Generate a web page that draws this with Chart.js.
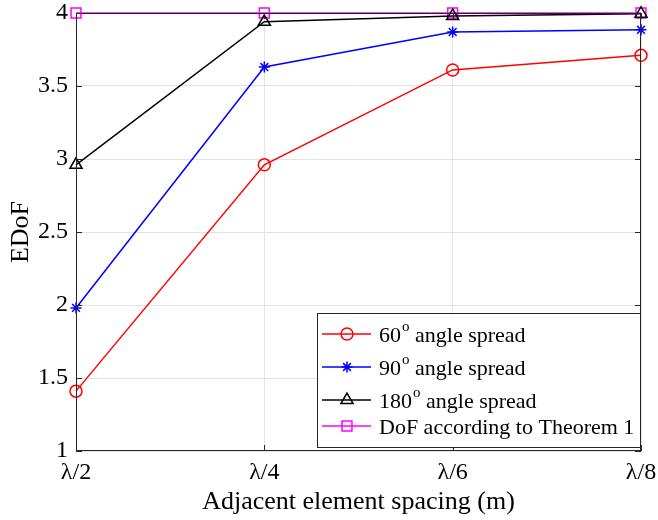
<!DOCTYPE html>
<html>
<head>
<meta charset="utf-8">
<script src="https://cdn.jsdelivr.net/npm/chart.js@4.4.0/dist/chart.umd.min.js"></script>
<style>
  html, body { margin: 0; padding: 0; background: #fff; }
  #wrap { width: 658px; height: 520px; position: relative; }
</style>
</head>
<body>
<div id="wrap"><canvas id="grafica"></canvas></div>
<script>
// datos
const espaciado = ['λ/2', 'λ/4', 'λ/6', 'λ/8'];
const spread60 = [1.41, 2.96, 3.61, 3.71];
const spread90 = [1.98, 3.63, 3.87, 3.885];
const spread180 = [2.96, 3.94, 3.98, 3.995];
const teorema1 = [4, 4, 4, 4];
const yTicks = [1, 1.5, 2, 2.5, 3, 3.5, 4];

const FUENTE = '"Liberation Serif", "Times New Roman", serif';
const EJE = '#262626';

// caja tipo MATLAB + ticks hacia adentro
const cajaPlugin = {
    id: 'caja',
    afterDraw(chart) {
        const { ctx, chartArea: a, scales } = chart;
        ctx.save();
        ctx.strokeStyle = EJE;
        ctx.lineWidth = 1;
        ctx.strokeRect(a.left + 0.5, a.top + 0.5, a.right - a.left - 1, a.bottom - a.top - 1);
        ctx.beginPath();
        const largo = 6;
        yTicks.forEach(v => {
            const y = Math.round(scales.y.getPixelForValue(v)) + 0.5;
            ctx.moveTo(a.left, y); ctx.lineTo(a.left + largo, y);
            ctx.moveTo(a.right, y); ctx.lineTo(a.right - largo, y);
        });
        espaciado.forEach((c, i) => {
            const x = Math.round(scales.x.getPixelForValue(i)) + 0.5;
            ctx.moveTo(x, a.bottom); ctx.lineTo(x, a.bottom - largo);
            ctx.moveTo(x, a.top); ctx.lineTo(x, a.top + largo);
        });
        ctx.stroke();
        ctx.restore();
    }
};

// leyenda dentro del area, abajo a la derecha
const leyendaPlugin = {
    id: 'leyendaInterna',
    afterDraw(chart) {
        const { ctx, chartArea: a } = chart;
        const w = 324, h = 135;
        const x0 = a.right - w, y0 = a.bottom - h - 3;
        ctx.save();
        ctx.fillStyle = '#fff';
        ctx.fillRect(x0, y0, w, h);
        ctx.strokeStyle = EJE;
        ctx.lineWidth = 1;
        ctx.strokeRect(x0 + 0.5, y0 + 0.5, w - 1, h - 1);
        const filas = [21, 54, 87, 113];
        chart.data.datasets.forEach((ds, i) => {
            const y = y0 + filas[i];
            ctx.strokeStyle = ds.borderColor;
            ctx.lineWidth = 1.5;
            ctx.beginPath();
            ctx.moveTo(x0 + 5, y); ctx.lineTo(x0 + 54, y);
            ctx.stroke();
            ctx.fillStyle = 'rgba(0,0,0,0)';
            Chart.helpers.drawPoint(ctx, {
                pointStyle: ds.pointStyle,
                radius: ds.pointRadius,
                borderWidth: 1.5
            }, x0 + 30, y);
            // texto con superindice
            ctx.fillStyle = '#000';
            ctx.textBaseline = 'middle';
            let tx = x0 + 62;
            const partes = ds.label.split('^o');
            ctx.font = '22px ' + FUENTE;
            ctx.fillText(partes[0], tx, y + 2);
            tx += ctx.measureText(partes[0]).width;
            if (partes.length > 1) {
                ctx.font = '15px ' + FUENTE;
                ctx.fillText('o', tx + 1, y - 7);
                tx += ctx.measureText('o').width + 1;
                ctx.font = '22px ' + FUENTE;
                ctx.fillText(partes[1], tx, y + 2);
            }
        });
        ctx.restore();
    }
};

function serie(label, data, color, estilo, radio) {
    return {
        label: label,
        data: data,
        borderColor: color,
        backgroundColor: 'rgba(0,0,0,0)',
        pointBorderColor: color,
        pointBackgroundColor: 'rgba(0,0,0,0)',
        borderWidth: 1.5,
        pointBorderWidth: 1.5,
        pointStyle: estilo,
        pointRadius: radio,
        tension: 0,
        clip: false
    };
}

const ctx = document.getElementById('grafica').getContext('2d');
new Chart(ctx, {
    type: 'line',
    data: {
        labels: espaciado,
        datasets: [
            serie('60^o angle spread', spread60, '#ff0000', 'circle', 6),
            serie('90^o angle spread', spread90, '#0000ff', 'star', 5.5),
            serie('180^o angle spread', spread180, '#000000', 'triangle', 7),
            serie('DoF according to Theorem 1', teorema1, '#ff00ff', 'rect', 7)
        ]
    },
    options: {
        responsive: true,
        maintainAspectRatio: false,
        animation: false,
        layout: { padding: { top: 13, right: 17, left: 0, bottom: 0 } },
        plugins: {
            legend: { display: false },
            tooltip: { enabled: false }
        },
        scales: {
            x: {
                type: 'category',
                offset: false,
                grid: { color: '#e3e3e3', drawTicks: false },
                border: { display: false },
                ticks: {
                    color: '#000',
                    padding: 7,
                    maxRotation: 0,
                    font: { family: FUENTE, size: 24 }
                },
                title: {
                    display: true,
                    text: 'Adjacent element spacing (m)',
                    color: '#000',
                    font: { family: FUENTE, size: 26 },
                    padding: { top: 0, bottom: 2 }
                },
                afterFit(s) {
                    s.height = 69;
                    s.paddingLeft = 0;
                    s.paddingRight = 0;
                }
            },
            y: {
                min: 1,
                max: 4,
                afterBuildTicks(s) { s.ticks = yTicks.map(v => ({ value: v })); },
                grid: { color: '#e3e3e3', drawTicks: false },
                border: { display: false },
                ticks: {
                    color: '#000',
                    padding: 8,
                    font: { family: FUENTE, size: 24 },
                    callback: v => String(v)
                },
                title: {
                    display: true,
                    text: 'EDoF',
                    color: '#000',
                    font: { family: FUENTE, size: 26 },
                    padding: { top: 6, bottom: 4 }
                },
                afterFit(s) {
                    s.width = 76;
                    s.paddingTop = 0;
                    s.paddingBottom = 0;
                }
            }
        }
    },
    plugins: [cajaPlugin, leyendaPlugin]
});
</script>
</body>
</html>
